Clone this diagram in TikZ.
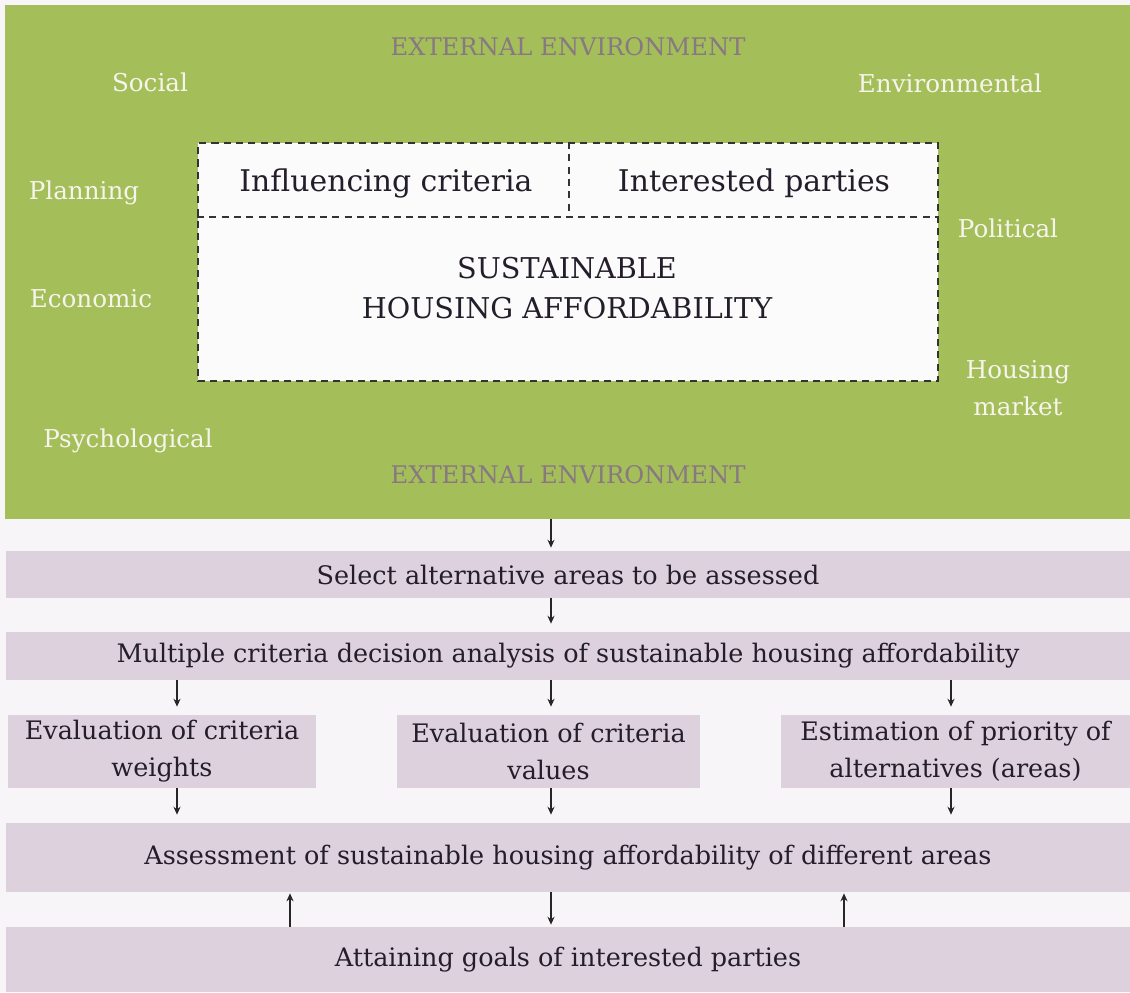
\documentclass[tikz,border=0pt]{standalone}
\usepackage{fontspec}
\setmainfont{DejaVu Serif}
\usepackage{xcolor}
\usetikzlibrary{arrows.meta}

\definecolor{paper}{RGB}{248,245,248}
\definecolor{envgreen}{RGB}{164,190,90}
\definecolor{bandmauve}{RGB}{221,209,222}
\definecolor{inktext}{RGB}{36,30,42}
\definecolor{envtitle}{RGB}{136,120,130}
\definecolor{labelwhite}{RGB}{247,244,236}

\begin{document}
\begin{tikzpicture}[x=0.02cm,y=-0.02cm,>={Stealth[length=4.5pt,width=4pt]},
  band/.style={fill=bandmauve,inner sep=0pt,text=inktext,align=center,
    minimum width=22.48cm,font=\fontsize{14.5}{21}\selectfont},
  midbox/.style={band,minimum height=1.46cm},
  envlabel/.style={text=labelwhite,align=center,font=\fontsize{14}{21}\selectfont},
  envhead/.style={text=envtitle,font=\fontsize{13.8}{16}\selectfont},
  divider/.style={draw=black!80,line width=0.8pt,dash pattern=on 4pt off 3pt},
  flow/.style={->,line width=0.8pt,black!85,shorten >=0.16cm}]

  \useasboundingbox[fill=paper] (0,0) rectangle (1130,992);

  % external environment with the core box
  \node[fill=envgreen,inner sep=0pt,minimum width=22.5cm,minimum height=10.28cm] (env) at (567.5,262) {};
  \node[envhead] (headtop) at (568,47) {EXTERNAL ENVIRONMENT};
  \node[envhead] (headbot) at (568,475) {EXTERNAL ENVIRONMENT};
  \foreach \n/\x/\y/\t in {social/150/82/Social,planning/84/193/Planning,
      economic/91/299/Economic,psych/128/441/Psychological,
      environ/950/83/Environmental,political/1008/228/Political,
      market/1018/388/{Housing\\market}}{
    \node[envlabel] (\n) at (\x,\y) {\t};
  }
  \node[fill=white!60!paper,divider,line width=1.1pt,minimum width=14.8cm,minimum height=4.76cm] (core) at (568,262) {};
  \coordinate (split) at (569,217);
  \draw[divider] (core.west |- split) -- (core.east |- split);
  \draw[divider] (core.north -| split) -- (split);
  \node[text=inktext,font=\fontsize{17}{20}\selectfont] (crit) at (386,183) {Influencing criteria};
  \node[text=inktext,font=\fontsize{17}{20}\selectfont] (parties) at (754,183) {Interested parties};
  \node[text=inktext,align=center,font=\fontsize{16.3}{22.8}\selectfont] (sha) at (567,288) {SUSTAINABLE\\HOUSING AFFORDABILITY};

  % assessment steps
  \node[band,minimum height=0.94cm] (select) at (568,574.5) {Select alternative areas to be assessed};
  \node[band,minimum height=0.96cm] (mcda) at (568,656) {Multiple criteria decision analysis of sustainable housing affordability};
  \node[midbox,minimum width=6.16cm] (weights) at (162,751.5) {Evaluation of criteria\\weights};
  \node[midbox,minimum width=6.06cm] (values) at (548.5,751.5) {Evaluation of criteria\\values};
  \node[midbox,minimum width=6.98cm] (priority) at (955.5,751.5) {Estimation of priority of\\alternatives (areas)};
  \node[band,minimum height=1.38cm] (assess) at (568,857.5) {Assessment of sustainable housing affordability of different areas};
  \node[band,minimum height=1.3cm] (attain) at (568,959.5) {Attaining goals of interested parties};

  \coordinate (colL) at (177,0);
  \coordinate (colM) at (551,0);
  \coordinate (colR) at (951,0);
  \coordinate (upL) at (290,0);
  \coordinate (upR) at (844,0);

  \draw[flow,shorten >=0.06cm] (env.south -| colM) -- (select.north -| colM);
  \draw[flow] (select.south -| colM) -- (mcda.north -| colM);
  \foreach \c/\b in {colL/weights,colM/values,colR/priority}{
    \draw[flow] (mcda.south -| \c) -- (\b.north -| \c);
    \draw[flow] (\b.south -| \c) -- (assess.north -| \c);
  }
  \draw[flow,shorten >=0.04cm] (assess.south -| colM) -- (attain.north -| colM);
  \draw[flow,shorten >=0.02cm] (attain.north -| upL) -- (assess.south -| upL);
  \draw[flow,shorten >=0.02cm] (attain.north -| upR) -- (assess.south -| upR);
\end{tikzpicture}
\end{document}
